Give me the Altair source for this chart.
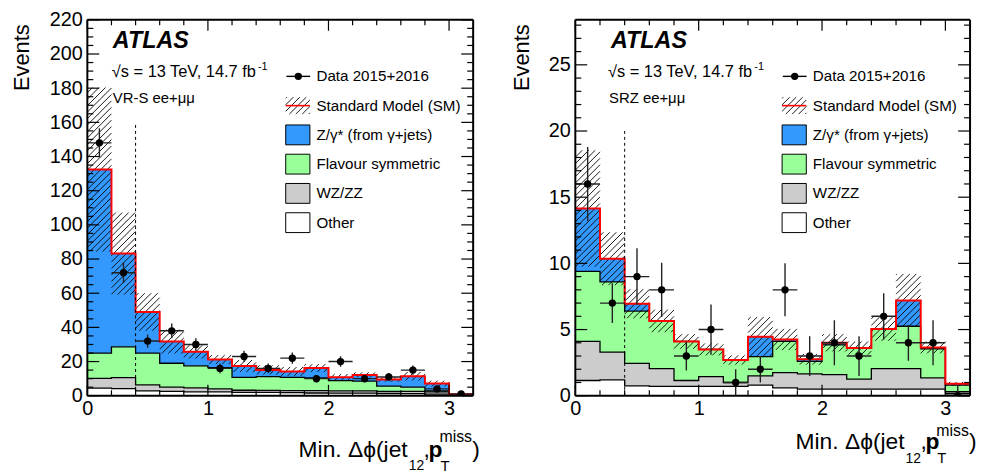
import altair as alt
import pandas as pd
import numpy as np

FONT = "Liberation Sans"

# ---------------- data ----------------
EDGES = [0.0, 0.2, 0.4, 0.6, 0.8, 1.0, 1.2, 1.4, 1.6, 1.8, 2.0, 2.2, 2.4, 2.6, 2.8, 3.0, 3.2]
COMPONENTS = ["Other", "WZ/ZZ", "Flavour symmetric", "Z/γ* (from γ+jets)"]
COMP_COLORS = ["#ffffff", "#cccccc", "#99ff99", "#3399ff"]

# left panel: VR-S ee+mumu
L_OTHER = [4.5, 4.2, 2.8, 2.5, 2.3, 2.2, 2.0, 2.0, 1.8, 1.6, 1.5, 1.5, 1.3, 1.2, 1.0, 0.2]
L_WZZZ = [5.7, 6.4, 3.6, 2.5, 2.3, 1.8, 1.2, 1.1, 1.2, 1.4, 1.4, 1.3, 1.3, 1.3, 1.2, 0.2]
L_FLAVSYM = [14.7, 18.0, 18.5, 14.0, 12.9, 12.5, 7.5, 8.1, 7.8, 7.4, 6.0, 5.7, 3.0, 2.5, 0.7, 0.1]
L_ZGAMMA = [107.5, 54.6, 24.1, 12.7, 8.2, 4.7, 6.7, 3.9, 3.4, 5.8, 1.9, 3.7, 3.9, 6.4, 4.2, 0.3]
L_SM_UNC = [48, 24, 11, 7, 3.9, 2.6, 3.5, 2.7, 2.6, 2.3, 1.9, 1.5, 1.3, 2.5, 1.7, 0.3]
L_DATA = [148, 72, 32, 38, 30, 16, 23, 16, 22, 10, 20, 10, 11, 15, 4, 1]
L_DATA_ERR = [8.5, 6.0, 3.9, 4.3, 3.7, 2.8, 3.3, 2.8, 3.3, 2.2, 3.1, 2.2, 2.3, 2.7, 1.4, 0.7]

# right panel: SRZ ee+mumu
R_OTHER = [1.15, 1.2, 0.75, 0.7, 0.7, 0.7, 0.7, 0.8, 0.6, 0.5, 0.5, 0.5, 0.5, 0.5, 0.5, 0.15]
R_WZZZ = [2.95, 2.1, 1.7, 1.35, 0.45, 0.75, 0.3, 0.7, 1.15, 1.15, 1.1, 0.75, 1.55, 1.55, 0.85, 0.15]
R_FLAVSYM = [5.3, 5.3, 3.95, 3.6, 2.95, 2.05, 1.7, 1.45, 2.35, 0.95, 2.25, 2.35, 3.0, 3.2, 2.2, 0.5]
R_ZGAMMA = [4.75, 1.75, 0.55, 0.0, 0.0, 0.0, 0.0, 1.5, 0.15, 0.15, 0.15, 0.0, 0.0, 1.95, 0.1, 0.1]
R_SM_UNC = [4.4, 2.0, 1.1, 0.85, 0.55, 0.45, 0.35, 1.5, 0.8, 0.4, 0.65, 0.5, 0.9, 2.0, 0.45, 0.15]
R_DATA = [16, 7, 9, 8, 3, 5, 1, 2, 8, 3, 4, 3, 6, 4, 4, 0]
R_DATA_ERR = [2.8, 1.5, 2.15, 2.05, 1.1, 1.9, 1.0, 1.0, 2.0, 1.5, 1.7, 1.5, 1.75, 1.35, 1.7, 0.8]

CUT_X = 0.4
L_CUT_TOP = 159
R_CUT_TOP = 20

X_MAJOR = [0, 1, 2, 3]
X_MINOR = [0.2, 0.4, 0.6, 0.8, 1.2, 1.4, 1.6, 1.8, 2.2, 2.4, 2.6, 2.8]
L_Y_MAJOR = [0, 20, 40, 60, 80, 100, 120, 140, 160, 180, 200, 220]
L_Y_MINOR = [5, 10, 15, 25, 30, 35, 45, 50, 55, 65, 70, 75, 85, 90, 95, 105, 110, 115,
             125, 130, 135, 145, 150, 155, 165, 170, 175, 185, 190, 195, 205, 210, 215]
R_Y_MAJOR = [0, 5, 10, 15, 20, 25]
R_Y_MINOR = [1, 2, 3, 4, 6, 7, 8, 9, 11, 12, 13, 14, 16, 17, 18, 19, 21, 22, 23, 24, 26, 27, 28]

LEGEND_LABELS = ["Data 2015+2016", "Standard Model (SM)", "Z/γ* (from γ+jets)",
                 "Flavour symmetric", "WZ/ZZ", "Other"]

ONE = pd.DataFrame({"k": [0]})
HATCH_STEP = 6.5
TOP_SHIFT = -2  # annotation shift so texts sit where the reference has them


def hatch_segments(lo, hi, W, H, ymax):
    kx = W / 3.2
    ky = H / ymax
    rows = []
    for i in range(len(lo)):
        X0, X1 = EDGES[i] * kx, EDGES[i + 1] * kx
        Y0, Y1 = max(lo[i], 0) * ky, min(hi[i], ymax) * ky
        if Y1 <= Y0:
            continue
        nmin = int(np.floor((Y0 - X1) / HATCH_STEP)) - 1
        nmax = int(np.ceil((Y1 - X0) / HATCH_STEP)) + 1
        for n in range(nmin, nmax + 1):
            c = n * HATCH_STEP
            xa = max(X0, Y0 - c)
            xb = min(X1, Y1 - c)
            if xb - xa > 0.4:
                rows.append(dict(x=xa / kx, y=(xa + c) / ky, x2=xb / kx, y2=(xb + c) / ky))
    return pd.DataFrame(rows)


def legend_hatch_path(w=24.4, h=17.0):
    r = w / 2.0
    parts = []
    lim = w / 2 + h / 2
    n0 = int(np.floor(-lim / HATCH_STEP)) - 1
    n1 = int(np.ceil(lim / HATCH_STEP)) + 1
    for n in range(n0, n1 + 1):
        c = n * HATCH_STEP
        xa = max(-w / 2, -h / 2 - c)
        xb = min(w / 2, h / 2 - c)
        if xb - xa > 0.4:
            parts.append("M%.3f,%.3fL%.3f,%.3f" % (xa / r, -(xa + c) / r, xb / r, -(xb + c) / r))
    return "".join(parts), (2 * r) ** 2


def text_layer(s, x, y, size, align="left", baseline="alphabetic", weight="normal", style="normal"):
    return alt.Chart(ONE).mark_text(
        align=align, baseline=baseline, font=FONT, fontSize=size,
        fontWeight=weight, fontStyle=style, color="black"
    ).encode(x=alt.value(x), y=alt.value(y), text=alt.value(s))


def make_panel(W, H, ymax, comps, sm_unc, data, data_err, y_major, y_minor, cut_top,
               region, txt_x, sup_x, legend_x, title_x, xtitle_dy, sup_raise):
    xs = alt.Scale(domain=[0, 3.2], nice=False, zero=False)
    ys = alt.Scale(domain=[0, ymax], nice=False, zero=False)
    xaxis = alt.Axis(values=X_MAJOR, format="d", ticks=False, domain=False, grid=False,
                     labelFont=FONT, labelFontSize=20, labelColor="black", labelPadding=3,
                     labelFlush=False, labelOverlap=False, title=None)
    yaxis = alt.Axis(values=y_major, format="d", ticks=False, domain=False, grid=False,
                     labelFont=FONT, labelFontSize=20, labelColor="black", labelPadding=5,
                     labelFlush=False, labelOverlap=False, title="Events", titleFont=FONT,
                     titleFontSize=22, titleFontWeight="normal", titleColor="black",
                     titleAngle=270, titleAlign="right", titleBaseline="top",
                     titleX=title_x, titleY=4)

    def X(f):
        return alt.X(f, type="quantitative", scale=xs, axis=xaxis)

    def Y(f):
        return alt.Y(f, type="quantitative", scale=ys, axis=yaxis, stack=False)

    # stacked components as step areas
    rows = []
    line_rows = []
    bottom = np.zeros(16)
    for name, vals in zip(COMPONENTS, comps):
        top = bottom + np.array(vals, dtype=float)
        for i in range(17):
            j = min(i, 15)
            rows.append(dict(comp=name, x=EDGES[i], lo=bottom[j], hi=top[j]))
            line_rows.append(dict(comp=name, x=EDGES[i], v=top[j]))
        bottom = top
    total = bottom
    area_df = pd.DataFrame(rows)
    line_df = pd.DataFrame(line_rows)

    layers = []
    layers.append(alt.Chart(area_df).mark_area(interpolate="step-after", opacity=1).encode(
        x=X("x"), y=Y("lo"), y2="hi",
        color=alt.Color("comp:N", scale=alt.Scale(domain=COMPONENTS, range=COMP_COLORS), legend=None),
        detail="comp:N"))
    layers.append(alt.Chart(line_df[line_df.comp != COMPONENTS[-1]]).mark_line(
        interpolate="step-after", color="black", strokeWidth=1.3).encode(
        x=X("x"), y=Y("v"), detail="comp:N"))

    unc = np.array(sm_unc, dtype=float)
    hdf = hatch_segments(total - unc, total + unc, W, H, ymax)
    layers.append(alt.Chart(hdf).mark_rule(color="black", strokeWidth=0.9, clip=True).encode(
        x=X("x"), y=Y("y"), x2="x2", y2="y2"))

    layers.append(alt.Chart(line_df[line_df.comp == COMPONENTS[-1]]).mark_line(
        interpolate="step-after", color="#ff0000", strokeWidth=2).encode(
        x=X("x"), y=Y("v")))

    cut_df = pd.DataFrame({"x": [CUT_X], "y0": [0], "y1": [cut_top]})
    layers.append(alt.Chart(cut_df).mark_rule(color="black", strokeWidth=1, strokeDash=[3, 3]).encode(
        x=X("x"), y=Y("y0"), y2="y1"))

    ddf = pd.DataFrame({
        "x0": EDGES[:-1], "x1": EDGES[1:],
        "xc": [(EDGES[i] + EDGES[i + 1]) / 2 for i in range(16)],
        "v": data,
        "lo": [d - e for d, e in zip(data, data_err)],
        "hi": [d + e for d, e in zip(data, data_err)],
    })
    layers.append(alt.Chart(ddf).mark_rule(color="#222222", strokeWidth=1.4, clip=True).encode(
        x=X("x0"), x2="x1", y=Y("v")))
    layers.append(alt.Chart(ddf).mark_rule(color="#222222", strokeWidth=1.4, clip=True).encode(
        x=X("xc"), y=Y("lo"), y2="hi"))
    layers.append(alt.Chart(ddf).mark_circle(size=55, color="black", opacity=1, clip=True).encode(
        x=X("xc"), y=Y("v")))

    # inward ticks on all four sides
    def ticks(vals, side, L):
        df = pd.DataFrame({"v": vals})
        base = alt.Chart(df).mark_rule(color="black", strokeWidth=1.2)
        if side == "bottom":
            return base.encode(x=X("v"), y=alt.value(H), y2=alt.value(H - L))
        if side == "top":
            return base.encode(x=X("v"), y=alt.value(0), y2=alt.value(L))
        if side == "left":
            return base.encode(y=Y("v"), x=alt.value(0), x2=alt.value(L))
        return base.encode(y=Y("v"), x=alt.value(W), x2=alt.value(W - L))

    layers += [ticks(X_MAJOR, "bottom", 11), ticks(X_MINOR, "bottom", 5.5),
               ticks(X_MAJOR, "top", 11), ticks(X_MINOR, "top", 5.5),
               ticks(y_major, "left", 12), ticks(y_minor, "left", 6),
               ticks(y_major, "right", 12), ticks(y_minor, "right", 6)]

    # frame
    for yv in (0, H):
        layers.append(alt.Chart(ONE).mark_rule(color="black", strokeWidth=2).encode(
            x=alt.value(0), x2=alt.value(W), y=alt.value(yv)))
    for xv in (0, W):
        layers.append(alt.Chart(ONE).mark_rule(color="black", strokeWidth=2).encode(
            x=alt.value(xv), y=alt.value(0), y2=alt.value(H)))

    t = TOP_SHIFT
    # annotations
    layers.append(text_layer("ATLAS", txt_x[0], 30.7 + t, 23.5, weight="bold", style="italic"))
    layers.append(text_layer("√s = 13 TeV, 14.7 fb", txt_x[1], 60 + t, 16.5))
    layers.append(text_layer("-1", sup_x, 52.3 + t, 11))
    layers.append(text_layer(region, txt_x[2], 85.7 + t, 15))

    # legend
    lx = legend_x
    ly = [59 + t + 29.5 * i for i in range(6)]
    layers.append(alt.Chart(ONE).mark_rule(color="black", strokeWidth=1.4).encode(
        x=alt.value(lx + 0.7), x2=alt.value(lx + 24.7), y=alt.value(ly[0])))
    layers.append(alt.Chart(ONE).mark_circle(size=55, color="black", opacity=1).encode(
        x=alt.value(lx + 12.7), y=alt.value(ly[0])))
    hpath, hsize = legend_hatch_path()
    layers.append(alt.Chart(ONE).mark_point(shape=hpath, size=hsize, filled=False, color="black",
                                            strokeWidth=0.9, opacity=1).encode(
        x=alt.value(lx + 12.2), y=alt.value(ly[1])))
    layers.append(alt.Chart(ONE).mark_rule(color="#ff0000", strokeWidth=1.6).encode(
        x=alt.value(lx), x2=alt.value(lx + 24.4), y=alt.value(ly[1])))
    box_colors = [COMP_COLORS[3], COMP_COLORS[2], COMP_COLORS[1], COMP_COLORS[0]]
    for k, col in enumerate(box_colors):
        yc = ly[2 + k]
        layers.append(alt.Chart(ONE).mark_rect(fill=col, stroke="black", strokeWidth=1).encode(
            x=alt.value(lx), x2=alt.value(lx + 24.4), y=alt.value(yc - 10), y2=alt.value(yc + 10)))
    for k, lab in enumerate(LEGEND_LABELS):
        layers.append(text_layer(lab, lx + 31, ly[k], 15.3, baseline="middle"))

    # x-axis title with sub/superscripts
    by = H + xtitle_dy
    parts = [("Min. Δϕ(jet", -66, 0, 23, "right", "normal"),
             ("12", -65, 13.5, 14, "left", "normal"),
             (",", -50, 0, 23, "left", "normal"),
             ("p", -45, 0, 23, "left", "bold"),
             ("T", -33, 14, 15, "left", "normal"),
             ("miss", -34, -sup_raise, 16, "left", "normal"),
             (")", -1, 0, 23, "left", "normal")]
    for s, dx, dy, size, align, weight in parts:
        layers.append(text_layer(s, W + dx, by + dy, size, align=align, weight=weight))

    return alt.layer(*layers).properties(width=W, height=H)


H = 379
left = make_panel(389, H, 220, [L_OTHER, L_WZZZ, L_FLAVSYM, L_ZGAMMA], L_SM_UNC, L_DATA, L_DATA_ERR,
                  L_Y_MAJOR, L_Y_MINOR, L_CUT_TOP, "VR-S ee+μμ", (25.7, 24.7, 25.7), 172,
                  200, -76, 61.6, 15)
right = make_panel(398, H, 28.4, [R_OTHER, R_WZZZ, R_FLAVSYM, R_ZGAMMA], R_SM_UNC, R_DATA, R_DATA_ERR,
                   R_Y_MAJOR, R_Y_MINOR, R_CUT_TOP, "SRZ ee+μμ", (36, 33, 34), 180.5,
                   208.5, -64, 54, 13)

chart = alt.hconcat(left, right, spacing=103, bounds="flush").properties(
    padding={"left": 3, "top": 0, "right": 0, "bottom": 0}
).configure_view(stroke=None)

chart.save("out.html", embed_options={"renderer": "svg", "actions": False})
